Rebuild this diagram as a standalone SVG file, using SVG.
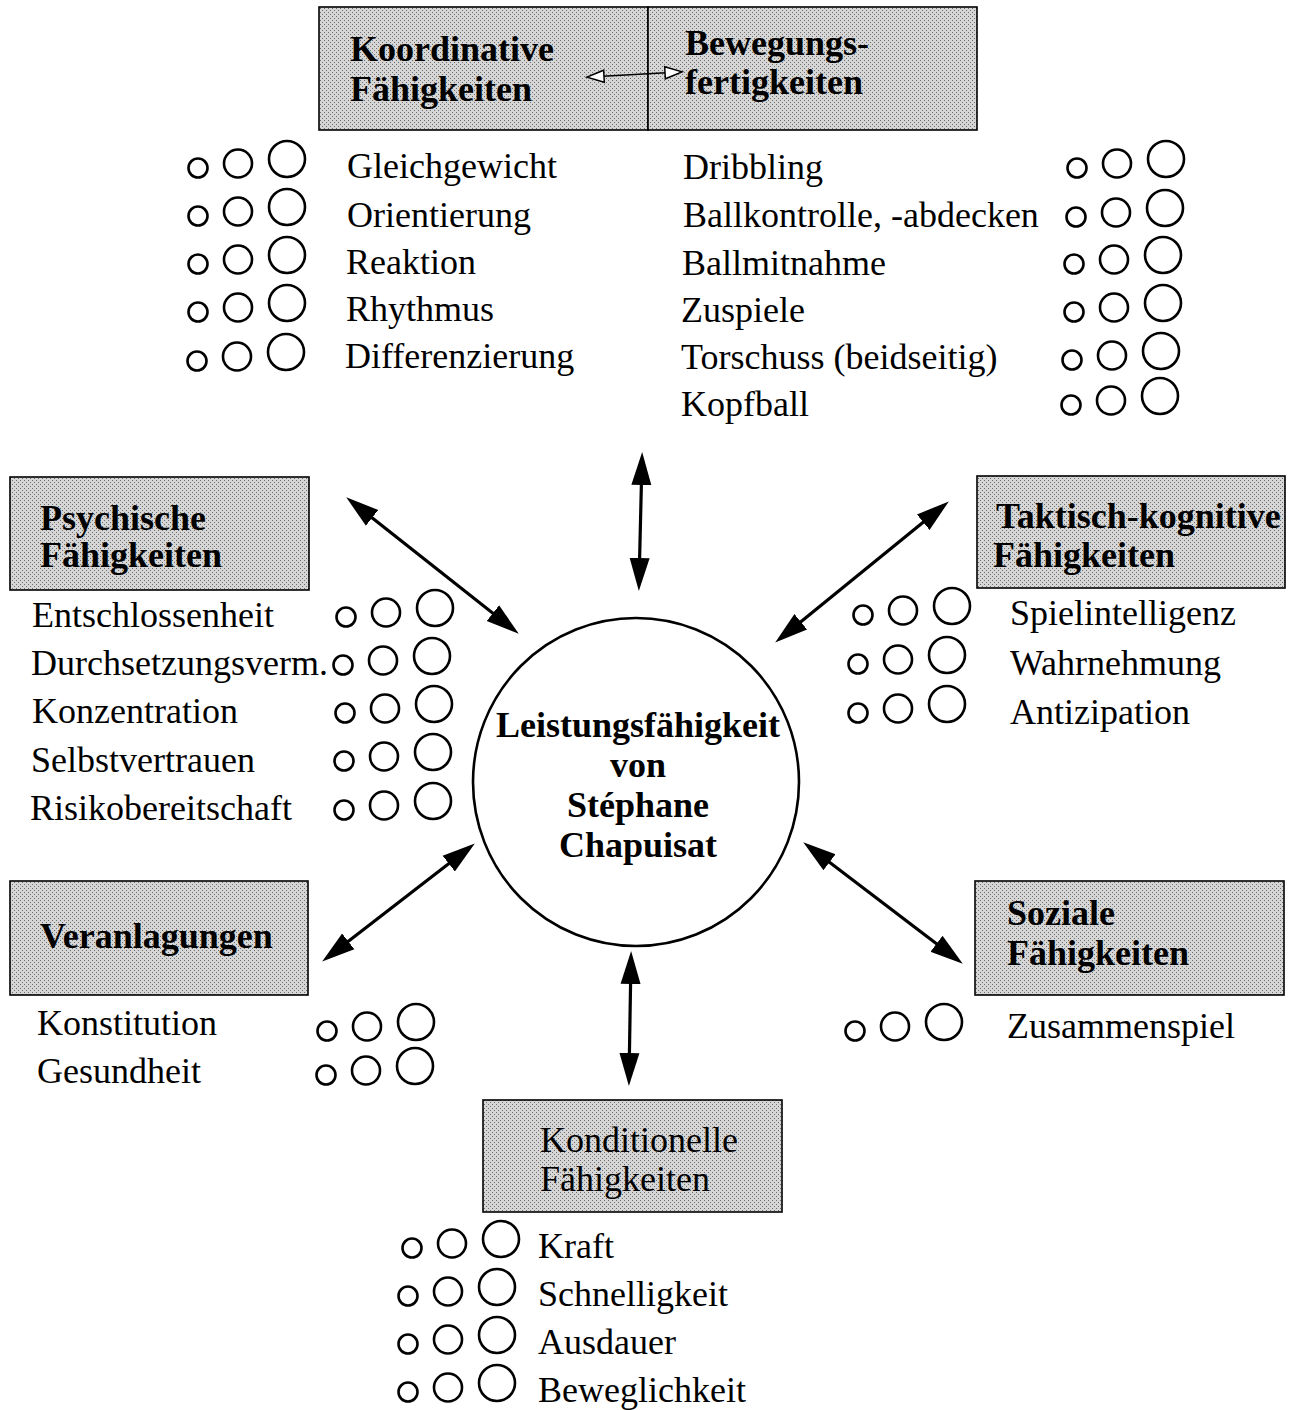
<svg xmlns="http://www.w3.org/2000/svg" width="1295" height="1410" viewBox="0 0 1295 1410">
<style>
  .box { fill: url(#ht); stroke: #000; stroke-width: 1.6; }
  .hb { font-family: "Liberation Serif", "Times New Roman", serif; font-size: 36px; font-weight: bold; fill: #000; }
  .hr { font-family: "Liberation Serif", "Times New Roman", serif; font-size: 36px; fill: #000; }
  .t { font-family: "Liberation Serif", "Times New Roman", serif; font-size: 36px; fill: #000; }
  .c { fill: none; stroke: #000; stroke-width: 2.6; }
  .arr { stroke: #000; stroke-width: 3.2; fill: none; marker-start: url(#ah); marker-end: url(#ah); }
  .thin { stroke: #000; stroke-width: 1.4; fill: none; marker-start: url(#oh); marker-end: url(#oh); }
</style>
<defs>
  <pattern id="ht" width="4" height="4" patternUnits="userSpaceOnUse">
    <rect width="4" height="4" fill="#d6d6d6"/>
    <rect x="0" y="0" width="1" height="1" fill="#6e6e6e"/>
    <rect x="2" y="2" width="1" height="1" fill="#6e6e6e"/>
  </pattern>
  <marker id="ah" markerUnits="userSpaceOnUse" markerWidth="40" markerHeight="24" viewBox="0 -12 40 24" refX="26" refY="0" orient="auto-start-reverse">
    <path d="M0,-10 L33,0 L0,10 Z" fill="#000"/>
  </marker>
  <marker id="oh" markerUnits="userSpaceOnUse" markerWidth="22" markerHeight="16" viewBox="-2 -8 22 16" refX="15" refY="0" orient="auto-start-reverse">
    <path d="M0,-6 L17,0 L0,6 Z" fill="#fff" stroke="#000" stroke-width="1.5"/>
  </marker>
  <g id="c3">
    <circle cx="0" cy="-10" r="9.5" class="c"/>
    <circle cx="40" cy="-14.5" r="14" class="c"/>
    <circle cx="89" cy="-19" r="18" class="c"/>
  </g>
</defs>
<rect width="1295" height="1410" fill="#fff"/>

<!-- Top: Koordinative / Bewegungsfertigkeiten -->
<g id="koordinative">
  <rect class="box" x="319" y="7" width="329" height="123"/>
  <text class="hb" x="350" y="61">Koordinative</text>
  <text class="hb" x="350" y="101">Fähigkeiten</text>
  <use href="#c3" x="198" y="178"/>
  <use href="#c3" x="198" y="226"/>
  <use href="#c3" x="198" y="274"/>
  <use href="#c3" x="198" y="322"/>
  <use href="#c3" x="197" y="371"/>
  <text class="t" x="347" y="178">Gleichgewicht</text>
  <text class="t" x="347" y="227">Orientierung</text>
  <text class="t" x="346" y="274">Reaktion</text>
  <text class="t" x="346" y="321">Rhythmus</text>
  <text class="t" x="345" y="368">Differenzierung</text>
</g>
<g id="bewegung">
  <rect class="box" x="648" y="7" width="329" height="123"/>
  <text class="hb" x="685" y="55">Bewegungs-</text>
  <text class="hb" x="685" y="94">fertigkeiten</text>
  <use href="#c3" x="1077" y="178"/>
  <use href="#c3" x="1076" y="227"/>
  <use href="#c3" x="1074" y="274"/>
  <use href="#c3" x="1074" y="322"/>
  <use href="#c3" x="1072" y="370"/>
  <use href="#c3" x="1071" y="415"/>
  <text class="t" x="683" y="179">Dribbling</text>
  <text class="t" x="683" y="227">Ballkontrolle, -abdecken</text>
  <text class="t" x="682" y="275">Ballmitnahme</text>
  <text class="t" x="681" y="322">Zuspiele</text>
  <text class="t" x="681" y="369">Torschuss (beidseitig)</text>
  <text class="t" x="681" y="416">Kopfball</text>
</g>

<!-- Psychische -->
<g id="psychische">
  <rect class="box" x="10" y="477" width="299" height="113"/>
  <text class="hb" x="40" y="530">Psychische</text>
  <text class="hb" x="40" y="567">Fähigkeiten</text>
  <use href="#c3" x="346" y="627"/>
  <use href="#c3" x="343" y="675"/>
  <use href="#c3" x="345" y="723"/>
  <use href="#c3" x="344" y="771"/>
  <use href="#c3" x="344" y="820"/>
  <text class="t" x="32" y="627">Entschlossenheit</text>
  <text class="t" x="31" y="675">Durchsetzungsverm.</text>
  <text class="t" x="32" y="723">Konzentration</text>
  <text class="t" x="31" y="772">Selbstvertrauen</text>
  <text class="t" x="30" y="820">Risikobereitschaft</text>
</g>

<!-- Taktisch-kognitive -->
<g id="taktisch">
  <rect class="box" x="977" y="476" width="308" height="112"/>
  <text class="hb" x="996" y="528">Taktisch-kognitive</text>
  <text class="hb" x="993" y="567">Fähigkeiten</text>
  <use href="#c3" x="863" y="625"/>
  <use href="#c3" x="858" y="674"/>
  <use href="#c3" x="858" y="723"/>
  <text class="t" x="1010" y="625">Spielintelligenz</text>
  <text class="t" x="1010" y="675">Wahrnehmung</text>
  <text class="t" x="1010" y="724">Antizipation</text>
</g>

<!-- Center -->
<g id="center">
  <ellipse cx="636" cy="782" rx="163" ry="164" fill="none" stroke="#000" stroke-width="2.6"/>
  <text class="hb" x="638" y="737" text-anchor="middle">Leistungsfähigkeit</text>
  <text class="hb" x="638" y="777" text-anchor="middle">von</text>
  <text class="hb" x="638" y="817" text-anchor="middle">Stéphane</text>
  <text class="hb" x="638" y="857" text-anchor="middle">Chapuisat</text>
</g>

<!-- Veranlagungen -->
<g id="veranlagungen">
  <rect class="box" x="10" y="881" width="298" height="114"/>
  <text class="hb" x="40" y="948">Veranlagungen</text>
  <use href="#c3" x="327" y="1041"/>
  <use href="#c3" x="326" y="1085"/>
  <text class="t" x="37" y="1035">Konstitution</text>
  <text class="t" x="37" y="1083">Gesundheit</text>
</g>

<!-- Soziale -->
<g id="soziale">
  <rect class="box" x="975" y="881" width="309" height="114"/>
  <text class="hb" x="1007" y="925">Soziale</text>
  <text class="hb" x="1007" y="965">Fähigkeiten</text>
  <use href="#c3" x="855" y="1041"/>
  <text class="t" x="1007" y="1038">Zusammenspiel</text>
</g>

<!-- Konditionelle -->
<g id="konditionelle">
  <rect class="box" x="483" y="1100" width="299" height="112"/>
  <text class="hr" x="540" y="1152">Konditionelle</text>
  <text class="hr" x="540" y="1191">Fähigkeiten</text>
  <use href="#c3" x="412" y="1258"/>
  <use href="#c3" x="408" y="1306"/>
  <use href="#c3" x="408" y="1354"/>
  <use href="#c3" x="408" y="1402"/>
  <text class="t" x="538" y="1258">Kraft</text>
  <text class="t" x="538" y="1306">Schnelligkeit</text>
  <text class="t" x="538" y="1354">Ausdauer</text>
  <text class="t" x="538" y="1402">Beweglichkeit</text>
</g>

<!-- Connectors -->
<g id="connectors">
  <line class="thin" x1="589" y1="77" x2="680" y2="72"/>
  <line class="arr" x1="642" y1="459" x2="639" y2="584"/>
  <line class="arr" x1="351.7" y1="501.7" x2="513.3" y2="629.3"/>
  <line class="arr" x1="943.4" y1="505.8" x2="780.6" y2="638.2"/>
  <line class="arr" x1="469.3" y1="847.7" x2="327.7" y2="957.3"/>
  <line class="arr" x1="808.8" y1="846.6" x2="957.2" y2="959.4"/>
  <line class="arr" x1="631" y1="958" x2="629" y2="1079"/>
</g>
</svg>
